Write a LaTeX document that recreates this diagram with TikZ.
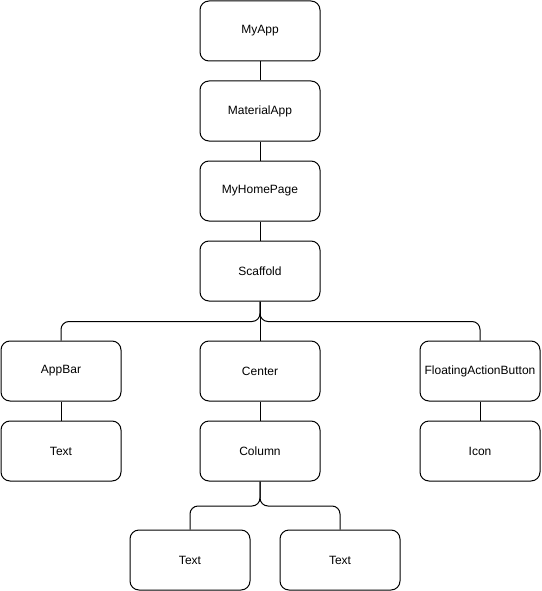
\documentclass[tikz,border=0pt]{standalone}
\usepackage{fontspec}
\setmainfont{Liberation Sans}
\begin{document}
\begin{tikzpicture}[x=1pt,y=-1pt,
  box/.style={draw=black,line width=1pt,rounded corners=9pt,minimum width=120pt,minimum height=60pt,inner sep=0pt,font=\fontsize{12pt}{14pt}\selectfont},
  link/.style={draw=black,line width=1pt,rounded corners=8pt}]
\useasboundingbox (0,0) rectangle (541,591);
\node[box] (myapp) at (260,31) {MyApp};
\node[box] (material) at (260,111) {MaterialApp};
\node[box] (home) at (260,191) {MyHomePage};
\node[box] (scaf) at (260,271) {Scaffold};
\node[box] (appbar) at (61,371) {AppBar};
\node[box] (center) at (260,371) {Center};
\node[box] (fab) at (480,371) {FloatingActionButton};
\node[box] (text1) at (61,451) {Text};
\node[box] (column) at (260,451) {Column};
\node[box] (icon) at (480,451) {Icon};
\node[box] (text2) at (190,560) {Text};
\node[box] (text3) at (340,560) {Text};
\draw[link] (myapp) -- (material);
\draw[link] (material) -- (home);
\draw[link] (home) -- (scaf);
\draw[link] (scaf.south) -- ++(0,20) -| (appbar.north);
\draw[link] (scaf) -- (center);
\draw[link] (scaf.south) -- ++(0,20) -| (fab.north);
\draw[link] (appbar) -- (text1);
\draw[link] (center) -- (column);
\draw[link] (fab) -- (icon);
\draw[link] (column.south) -- ++(0,24.5) -| (text2.north);
\draw[link] (column.south) -- ++(0,24.5) -| (text3.north);
\end{tikzpicture}
\end{document}
